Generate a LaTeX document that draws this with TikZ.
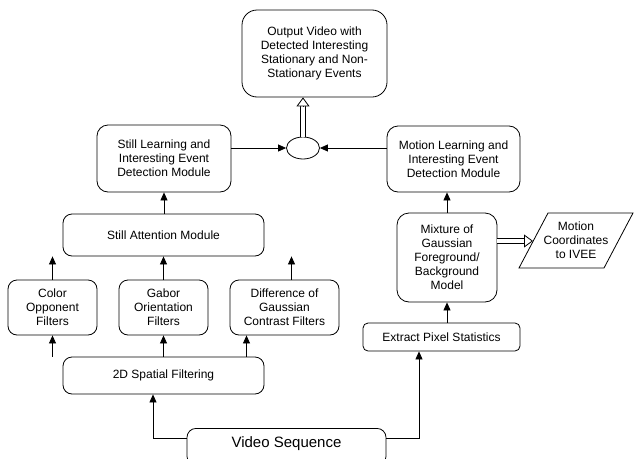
\documentclass[tikz,border=0pt]{standalone}
\usepackage{fontspec}
\setmainfont{Liberation Sans}
\usetikzlibrary{arrows.meta,shapes.geometric,calc}
\begin{document}
\begin{tikzpicture}[x=1pt,y=-1pt, line width=0.8pt,
  box/.style={draw, rounded corners=#1, align=center, inner sep=0pt, font=\fontsize{12}{14}\selectfont},
  box/.default=9pt,
  arr/.style={-{Triangle[length=8pt,width=7pt]}},
  dblshaft/.style={draw=black, double=white, double distance=4pt, line width=0.8pt, shorten >=8pt},
  dbltip/.style={-{Triangle[open,length=9pt,width=13pt,fill=white]}}]
\useasboundingbox (0,0) rectangle (634,458);

\node[box=15pt, minimum width=145pt, minimum height=87pt] (out) at (314.5,53.5)
  {Output Video with\\Detected Interesting\\Stationary and Non-\\Stationary Events};
\node[draw, ellipse, minimum width=33pt, minimum height=22pt, inner sep=0pt] (ell) at (303,148) {};
\node[box=11pt, minimum width=134pt, minimum height=67pt] (stillL) at (164,158.5)
  {Still Learning and\\Interesting Event\\Detection Module};
\node[box=11pt, minimum width=133pt, minimum height=66pt] (motionL) at (453.5,159)
  {Motion Learning and\\Interesting Event\\Detection Module};
\node[box, minimum width=201pt, minimum height=42pt] (stillA) at (163.5,235) {Still Attention Module};
\node[box, minimum width=89pt, minimum height=55pt] (color) at (52.5,307.5) {Color\\Opponent\\Filters};
\node[box, minimum width=89pt, minimum height=55pt] (gabor) at (163.5,307.5) {Gabor\\Orientation\\Filters};
\node[box, minimum width=109pt, minimum height=55pt] (dog) at (284.5,307.5) {Difference of\\Gaussian\\Contrast Filters};
\node[box, minimum width=201pt, minimum height=37pt] (spatial) at (163.5,375.5) {2D Spatial Filtering};
\node[draw, rounded corners=9pt, anchor=north, minimum width=199pt, inner ysep=8pt, text height=11pt, text depth=10pt,
  font=\fontsize{15}{18}\selectfont] (video) at (286.5,428) {Video Sequence};
\node[box=12pt, minimum width=100pt, minimum height=89pt] (mix) at (447,257.5)
  {Mixture of\\Gaussian\\Foreground/\\Background\\Model};
\node[box=5pt, minimum width=157pt, minimum height=28pt] (extract) at (441.5,337) {Extract Pixel Statistics};

\draw (519,268) -- (548,213) -- (633,213) -- (604,268) -- cycle;
\node[align=center, inner sep=0pt, font=\fontsize{12}{14}\selectfont] (para) at (576,240.5) {Motion\\Coordinates\\to IVEE};
\coordinate (paraL) at (533,241);
\coordinate (outIn) at (ell.north |- out.south);
\coordinate (mixOut) at (mix.east |- paraL);

% connectors
\draw[arr] (stillL.east |- ell) -- (ell.west);
\draw[arr] (motionL.west |- ell) -- (ell.east);
\draw[dblshaft] (ell.north) -- (outIn);
\draw[dbltip] ($(outIn)!9pt!(ell.north)$) -- (outIn);
\draw[arr] (stillA.north -| stillL) -- (stillL.south);
\draw[arr] (color.north) -- (color.north |- stillA.south);
\draw[arr] (gabor.north) -- (gabor.north |- stillA.south);
\draw[arr] ([xshift=7pt]dog.north) -- ([xshift=7pt]dog.north |- stillA.south);
\draw[arr] (spatial.north -| color) -- (color.south);
\draw[arr] (spatial.north -| gabor) -- (gabor.south);
\draw[arr] ([xshift=-38pt]spatial.north -| dog) -- ([xshift=-38pt]dog.south);
\draw[arr] (video.west |- 0,438) -| ([xshift=-10.5pt]spatial.south);
\draw[arr] (video.east |- 0,438) -| ([xshift=-22.5pt]extract.south);
\draw[arr] (extract.north -| mix) -- (mix.south);
\draw[arr] (mix.north) -- (motionL.south -| mix);
\draw[dblshaft] (mixOut) -- (paraL);
\draw[dbltip] ($(paraL)!9pt!(mixOut)$) -- (paraL);
\end{tikzpicture}
\end{document}
